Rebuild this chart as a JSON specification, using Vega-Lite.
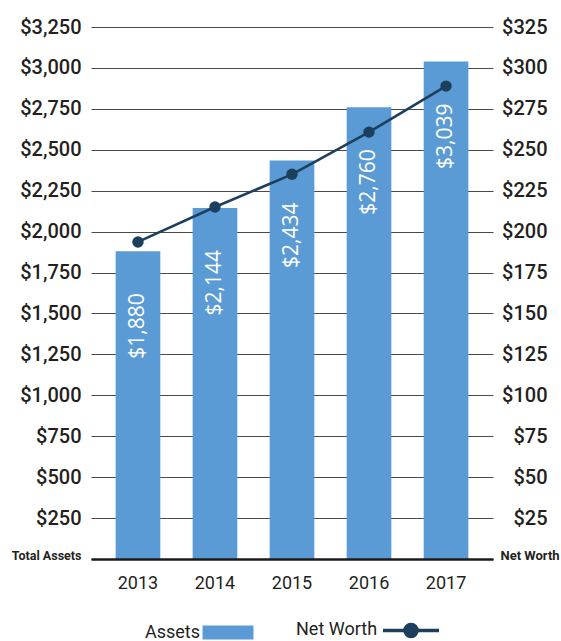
{
  "$schema": "https://vega.github.io/schema/vega-lite/v6.json",
  "width": 402,
  "height": 532,
  "autosize": {"type": "none"},
  "padding": {"left": 91, "top": 27, "right": 68, "bottom": 82},
  "background": "white",
  "config": {
    "view": {"stroke": null},
    "axis": {"labelColor": "#231f20", "ticks": false, "tickSize": 0, "title": null, "domain": false}
  },
  "data": {
    "values": [
      {"year": "2013", "assets": 1880, "networth": 193.7},
      {"year": "2014", "assets": 2144, "networth": 215},
      {"year": "2015", "assets": 2434, "networth": 235},
      {"year": "2016", "assets": 2760, "networth": 260.8},
      {"year": "2017", "assets": 3039, "networth": 288.9}
    ]
  },
  "layer": [
    {
      "layer": [
        {
          "mark": {"type": "bar", "color": "#5b9bd5"},
          "encoding": {
            "x": {
              "field": "year", "type": "nominal",
              "scale": {"paddingInner": 0.42, "paddingOuter": 0.32},
              "axis": {
                "labelAngle": 0, "labelFont": "Roboto",
                "labelFontSize": 18, "labelPadding": 15, "domain": true, "domainColor": "#1a1a1a", "domainWidth": 2.6, "zindex": 1
              }
            },
            "y": {
              "field": "assets", "type": "quantitative",
              "scale": {"domain": [0, 3250], "nice": false},
              "axis": {
                "orient": "left",
                "values": [0, 250, 500, 750, 1000, 1250, 1500, 1750, 2000, 2250, 2500, 2750, 3000, 3250],
                "grid": true, "gridColor": "#4a4a4a", "gridWidth": 1.2,
                "labelPadding": 10,
                "labelFont": "Roboto",
                "labelExpr": "datum.value === 0 ? 'Total Assets' : '$' + format(datum.value, ',')",
                "labelFontSize": {"condition": {"test": "datum.value === 0", "value": 12.5}, "value": 20},
                "labelFontWeight": {"condition": {"test": "datum.value === 0", "value": "bold"}, "value": 500},
                "labelOffset": {"condition": {"test": "datum.value === 0", "value": -4}, "value": 0}
              }
            },
            "color": {
              "datum": "Assets", "type": "nominal",
              "scale": {"domain": ["Assets", "Net Worth"], "range": ["#5b9bd5", "#1d3f5e"]},
              "legend": {
                "orient": "none", "legendX": 54, "legendY": 594,
                "direction": "horizontal", "title": null,
                "labelFont": "Roboto",
                "labelFontSize": 18, "labelColor": "#231f20", "labelLimit": 300,
                "symbolSize": 784, "columnPadding": 42,
                "encode": {
                  "symbols": {
                    "update": {
                      "shape": {"signal": "datum.value === 'Assets' ? 'M-1.82,-0.5H1.82V0.5H-1.82Z' : 'M-2,0H2M0.43,0A0.43,0.43,0,1,1,-0.43,0A0.43,0.43,0,1,1,0.43,0Z'"},
                      "fill": {"signal": "datum.value === 'Assets' ? '#5b9bd5' : '#1d3f5e'"},
                      "stroke": {"signal": "datum.value === 'Assets' ? '#5b9bd5' : '#1d3f5e'"},
                      "strokeWidth": {"signal": "datum.value === 'Assets' ? 0 : 3.5"},
                      "opacity": {"value": 1}, "fillOpacity": {"value": 1}, "strokeOpacity": {"value": 1},
                      "x": {"signal": "datum.value === 'Assets' ? 83 : 115"}
                    }
                  },
                  "labels": {
                    "update": {"x": {"value": 0}, "align": {"value": "left"}}
                  }
                }
              }
            }
          }
        },
        {
          "mark": {"type": "text", "angle": 270, "align": "right", "baseline": "middle", "dx": -42, "color": "white", "font": "Open Sans", "fontSize": 21},
          "encoding": {
            "x": {"field": "year", "type": "nominal"},
            "y": {"field": "assets", "type": "quantitative"},
            "text": {"field": "assets", "type": "quantitative", "format": "$,.0f"}
          }
        }
      ]
    },
    {
      "layer": [
        {
          "mark": {"type": "line", "strokeWidth": 2.6},
          "encoding": {
            "x": {"field": "year", "type": "nominal"},
            "y": {
              "field": "networth", "type": "quantitative",
              "scale": {"domain": [0, 325], "nice": false},
              "axis": {
                "orient": "right",
                "values": [0, 25, 50, 75, 100, 125, 150, 175, 200, 225, 250, 275, 300, 325],
                "grid": false,
                "labelFont": "Roboto",
                "labelExpr": "datum.value === 0 ? 'Net Worth' : '$' + datum.value",
                "labelAlign": {"condition": {"test": "datum.value === 0", "value": "left"}, "value": "right"},
                "labelPadding": {"condition": {"test": "datum.value === 0", "value": 7}, "value": 54},
                "labelOffset": {"condition": {"test": "datum.value === 0", "value": -4}, "value": 0},
                "labelFontSize": {"condition": {"test": "datum.value === 0", "value": 13}, "value": 20},
                "labelFontWeight": {"condition": {"test": "datum.value === 0", "value": "bold"}, "value": 500}
              }
            },
            "color": {"datum": "Net Worth", "type": "nominal"}
          }
        },
        {
          "mark": {"type": "point", "filled": true, "size": 130, "opacity": 1},
          "encoding": {
            "x": {"field": "year", "type": "nominal"},
            "y": {"field": "networth", "type": "quantitative"},
            "color": {"datum": "Net Worth", "type": "nominal"}
          }
        }
      ]
    }
  ],
  "resolve": {"scale": {"y": "independent"}}
}
